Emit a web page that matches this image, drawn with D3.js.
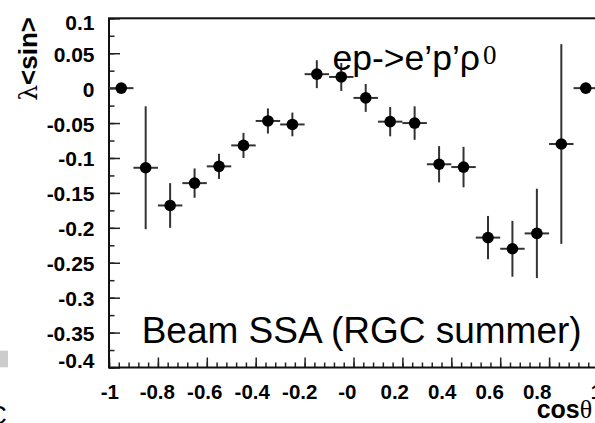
<!DOCTYPE html>
<html>
<head>
<meta charset="utf-8">
<script src="https://cdn.jsdelivr.net/npm/d3@7"></script>
<style>
body { margin: 0; background: #fff; }
svg { display: block; }
</style>
</head>
<body>
<div id="chart"></div>
<script>
// bin centres in cos(theta), asymmetry and its error
var binCenters = [-0.95, -0.85, -0.75, -0.65, -0.55, -0.45, -0.35, -0.25, -0.15, -0.05,
                  0.05, 0.15, 0.25, 0.35, 0.45, 0.55, 0.65, 0.75, 0.85, 0.95];
var asym = [0, -0.114, -0.168, -0.136, -0.112, -0.082, -0.047, -0.052, 0.020, 0.016,
            -0.014, -0.048, -0.050, -0.109, -0.113, -0.214, -0.230, -0.208, -0.080, 0];
var asymErr = [0, 0.088, 0.032, 0.021, 0.018, 0.018, 0.018, 0.017, 0.020, 0.020,
               0.020, 0.021, 0.024, 0.026, 0.029, 0.031, 0.040, 0.064, 0.143, 0];
var binHalf = 0.05;

var yTicks = [0.1, 0.05, 0, -0.05, -0.1, -0.15, -0.2, -0.25, -0.3, -0.35, -0.4];
var yTickLabels = ["0.1", "0.05", "0", "-0.05", "-0.1", "-0.15", "-0.2", "-0.25", "-0.3", "-0.35", "-0.4"];
var xTicks = [-1, -0.8, -0.6, -0.4, -0.2, 0, 0.2, 0.4, 0.6, 0.8, 1];
var xTickLabels = ["-1", "-0.8", "-0.6", "-0.4", "-0.2", "-0", "0.2", "0.4", "0.6", "0.8", "1"];

var W = 595, H = 423;
var fl = 109, fr = 598, ft = 18.3, fb = 367.5;   // frame edges (right one is off the picture)
var sans = "'Liberation Sans', Arial, Helvetica, sans-serif";

var x = d3.scaleLinear().domain([-1, 1]).range([fl, fr]);
// labels drift a little from the ticks in the original
var xl = d3.scaleLinear().domain([-1, 0.8, 1]).range([109.3, 536.7, 596]);
var y = d3.scaleLinear().domain([-0.4, 0.1]).range([fb, ft]);

var svg = d3.select("#chart").append("svg")
	.attr("width", W)
	.attr("height", H);

// slide leftovers at the left edge
svg.append("rect")
	.attr("x", 0).attr("y", 350.7)
	.attr("width", 8).attr("height", 16.6)
	.attr("fill", "#cccccc");
svg.append("text")
	.attr("x", -12).attr("y", 424)
	.style("font-family", sans).style("font-size", "26px")
	.text("C");

function tickStyle(g) {
	g.select(".domain").remove();
	g.selectAll("line").attr("stroke", "#222").attr("stroke-width", 1.5);
}

// minor + major ticks on y (pointing into the frame)
var yMinor = d3.range(-0.4, 0.1001, 0.025);
svg.append("g")
	.attr("transform", "translate(" + fl + ",0)")
	.call(d3.axisLeft(y).tickValues(yMinor).tickSize(-5.5).tickFormat(""))
	.call(tickStyle);
svg.append("g")
	.attr("transform", "translate(" + fl + ",0)")
	.call(d3.axisLeft(y).tickValues(yTicks).tickSize(-11).tickFormat(""))
	.call(tickStyle);

// minor + major ticks on x
var xMinor = d3.range(-1, 1.0001, 0.04);
svg.append("g")
	.attr("transform", "translate(0," + fb + ")")
	.call(d3.axisBottom(x).tickValues(xMinor).tickSize(-5).tickFormat(""))
	.call(tickStyle);
svg.append("g")
	.attr("transform", "translate(0," + fb + ")")
	.call(d3.axisBottom(x).tickValues(xTicks).tickSize(-10).tickFormat(""))
	.call(tickStyle);

// y tick labels
var yl = svg.append("g")
	.attr("transform", "translate(" + fl + ",0)")
	.call(d3.axisLeft(y).tickValues(yTicks).tickSize(0).tickPadding(14.5)
		.tickFormat(function(d, i){ return yTickLabels[i]; }));
yl.select(".domain").remove();
yl.selectAll("text")
	.attr("dy", function(d, i){ return i == 0 ? "0.55em" : (i == yTicks.length - 1 ? "-0.02em" : "0.38em"); })
	.style("font-family", sans).style("font-size", "21px").style("font-weight", "bold").attr("fill", "#000");

// x tick labels
var xa = svg.append("g")
	.attr("transform", "translate(0," + fb + ")")
	.call(d3.axisBottom(xl).tickValues(xTicks).tickSize(0).tickPadding(0)
		.tickFormat(function(d, i){ return xTickLabels[i]; }));
xa.select(".domain").remove();
xa.selectAll("text")
	.attr("y", 0).attr("dy", 31)
	.style("font-family", sans).style("font-size", "20.5px").style("font-weight", "bold").attr("fill", "#000");

// frame
svg.append("rect")
	.attr("x", fl).attr("y", ft)
	.attr("width", fr - fl).attr("height", fb - ft)
	.attr("fill", "none").attr("stroke", "#111").attr("stroke-width", 2);

// data: error bars then markers
var pts = binCenters.map(function(c, i){ return {x: c, y: asym[i], e: asymErr[i]}; });
var pg = svg.append("g");
pg.selectAll("line.ex").data(pts).enter().append("line")
	.attr("class", "ex")
	.attr("x1", function(d){ return x(d.x - binHalf); })
	.attr("x2", function(d){ return x(d.x + binHalf); })
	.attr("y1", function(d){ return y(d.y); })
	.attr("y2", function(d){ return y(d.y); })
	.attr("stroke", "#333").attr("stroke-width", 2);
pg.selectAll("line.ey").data(pts.filter(function(d){ return d.e > 0; })).enter().append("line")
	.attr("class", "ey")
	.attr("x1", function(d){ return x(d.x); })
	.attr("x2", function(d){ return x(d.x); })
	.attr("y1", function(d){ return y(d.y - d.e); })
	.attr("y2", function(d){ return y(d.y + d.e); })
	.attr("stroke", "#333").attr("stroke-width", 2);
pg.selectAll("circle").data(pts).enter().append("circle")
	.attr("cx", function(d){ return x(d.x); })
	.attr("cy", function(d){ return y(d.y); })
	.attr("r", 5.8)
	.attr("fill", "#000");

// texts
var t1 = svg.append("text")
	.attr("x", 332.5).attr("y", 70)
	.style("font-family", sans).style("font-size", "35.5px");
t1.append("tspan").text("ep->e\u2019p\u2019\u03c1");
t1.append("tspan")
	.attr("dx", 3).attr("dy", -6)
	.style("font-family", "'Liberation Serif', 'Times New Roman', serif").style("font-size", "27px")
	.text("0");

svg.append("text")
	.attr("x", 141.7).attr("y", 343.3)
	.style("font-family", sans).style("font-size", "37px")
	.text("Beam SSA (RGC summer)");

var yt = svg.append("text")
	.attr("transform", "translate(37,17) rotate(-90)")
	.attr("text-anchor", "end")
	.style("font-family", sans).style("font-size", "26px");
yt.append("tspan").style("font-family", "'DejaVu Serif', serif").style("font-size", "25px").text("\u03bb");
yt.append("tspan").style("font-weight", "bold").text("<sin>");

var xt = svg.append("text")
	.attr("x", 536.7).attr("y", 418.3)
	.style("font-family", sans).style("font-size", "25px");
xt.append("tspan").style("font-weight", "bold").text("cos");
xt.append("tspan").style("font-family", "'Liberation Serif', serif").style("font-size", "26px").text("\u03b8");
</script>
</body>
</html>
